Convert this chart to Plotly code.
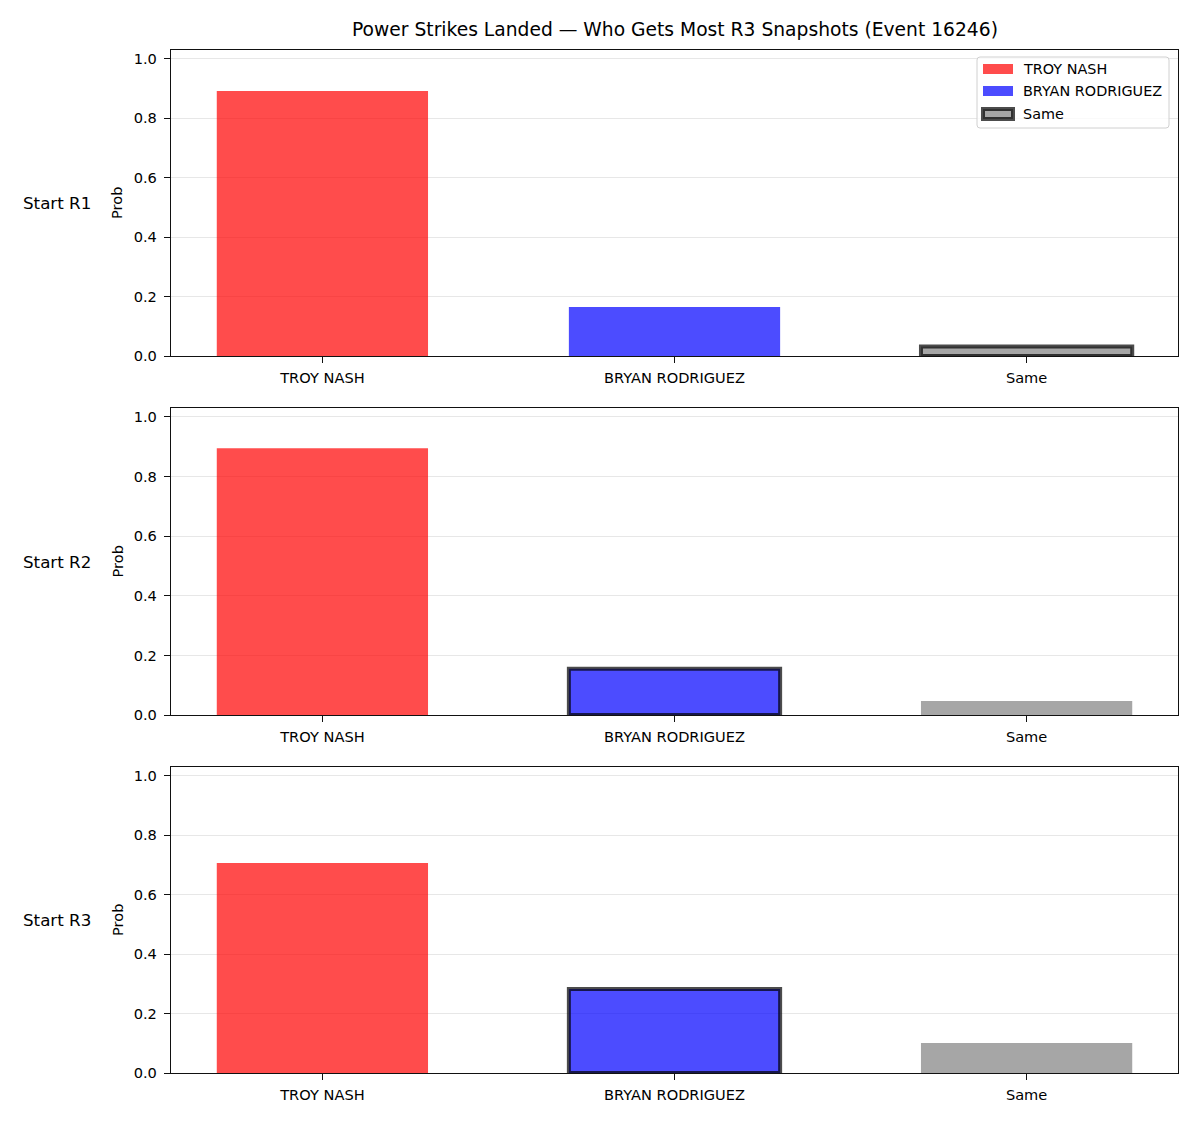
import plotly.graph_objects as go

categories = ["TROY NASH", "BRYAN RODRIGUEZ", "Same"]
row_labels = ["Start R1", "Start R2", "Start R3"]
probs_r1 = [0.892, 0.165, 0.032]
probs_r2 = [0.895, 0.155, 0.047]
probs_r3 = [0.707, 0.283, 0.101]
highlight = ["Same", "BRYAN RODRIGUEZ", "BRYAN RODRIGUEZ"]
title = "Power Strikes Landed \u2014 Who Gets Most R3 Snapshots (Event 16246)"

colors = ["rgba(255,0,0,0.7)", "rgba(0,0,255,0.7)", "rgba(128,128,128,0.7)"]
EDGE = "rgba(0,0,0,0.7)"
W, H = 1200, 1125
FONT = "DejaVu Sans"
TICK = 14.6

# panel pixel boxes (top, bottom)
panels_px = [(50, 356), (408, 715), (767, 1073)]
x0, x1 = 171, 1178


def px(x):
    return x / W


def py(y):
    return 1 - y / H


fig = go.Figure()
all_vals = [probs_r1, probs_r2, probs_r3]

for i, vals in enumerate(all_vals):
    n = i + 1
    xa = "x" if n == 1 else f"x{n}"
    ya = "y" if n == 1 else f"y{n}"
    lw = [4 if c == highlight[i] else 0 for c in categories]
    fig.add_trace(go.Bar(
        x=categories, y=vals, width=0.6,
        marker=dict(color=colors, line=dict(color=EDGE, width=lw)),
        xaxis=xa, yaxis=ya, showlegend=False, hoverinfo="x+y",
    ))
    top, bot = panels_px[i]
    dom_y = [py(bot), py(top)]
    axkey_x = "xaxis" if n == 1 else f"xaxis{n}"
    axkey_y = "yaxis" if n == 1 else f"yaxis{n}"
    fig.update_layout({
        axkey_x: dict(domain=[px(x0), px(x1)], anchor=ya, range=[-0.43, 2.43],
                      showline=True, linecolor="#111111", linewidth=1.4, mirror=True,
                      ticks="outside", ticklen=6, tickcolor="#111111", tickwidth=1.2,
                      showgrid=False, ticklabelstandoff=2,
                      tickfont=dict(family=FONT, size=TICK, color="black"),
                      categoryorder="array", categoryarray=categories, automargin=False),
        axkey_y: dict(domain=dom_y, anchor=xa, range=[0, 1.03],
                      showline=True, linecolor="#111111", linewidth=1.4, mirror=True,
                      ticks="outside", ticklen=6, tickcolor="#111111", tickwidth=1.2,
                      tickvals=[0, 0.2, 0.4, 0.6, 0.8, 1.0], tickformat=".1f",
                      showgrid=True, gridcolor="rgba(176,176,176,0.3)", gridwidth=1,
                      zeroline=False, ticklabelstandoff=4,
                      tickfont=dict(family=FONT, size=TICK, color="black"), automargin=False),
    })
    yc = py((top + bot) / 2)
    fig.add_annotation(text=row_labels[i], xref="paper", yref="paper",
                       x=px(57), y=yc, xanchor="center", yanchor="middle",
                       showarrow=False, font=dict(family=FONT, size=16.7, color="black"))
    fig.add_annotation(text="Prob", xref="paper", yref="paper",
                       x=px(117), y=yc, xanchor="center", yanchor="middle", textangle=-90,
                       showarrow=False, font=dict(family=FONT, size=TICK, color="black"))

# manual legend (matplotlib-style wide patches)
lx0, lx1, ly0, ly1, r = 977, 1169, 57, 128, 3
path = (f"M {px(lx0 + r)},{py(ly0)} L {px(lx1 - r)},{py(ly0)} "
        f"Q {px(lx1)},{py(ly0)} {px(lx1)},{py(ly0 + r)} L {px(lx1)},{py(ly1 - r)} "
        f"Q {px(lx1)},{py(ly1)} {px(lx1 - r)},{py(ly1)} L {px(lx0 + r)},{py(ly1)} "
        f"Q {px(lx0)},{py(ly1)} {px(lx0)},{py(ly1 - r)} L {px(lx0)},{py(ly0 + r)} "
        f"Q {px(lx0)},{py(ly0)} {px(lx0 + r)},{py(ly0)} Z")
fig.add_shape(type="path", path=path, xref="paper", yref="paper",
              fillcolor="rgba(255,255,255,0.8)", line=dict(color="#d0d0d0", width=1))
row_y = [69, 91, 114]
for name, col, yy in zip(categories, colors, row_y):
    is_same = name == "Same"
    fig.add_shape(type="rect", xref="paper", yref="paper",
                  x0=px(983), x1=px(1013), y0=py(yy - 5), y1=py(yy + 5),
                  fillcolor=col,
                  line=dict(color=EDGE if is_same else "rgba(0,0,0,0)", width=4 if is_same else 0))
    fig.add_annotation(text=name, xref="paper", yref="paper", x=px(1021), y=py(yy),
                       xanchor="left", yanchor="middle", showarrow=False,
                       font=dict(family=FONT, size=14.4, color="black"))

fig.add_annotation(text=title, xref="paper", yref="paper", x=px((x0 + x1) / 2), y=py(30),
                   xanchor="center", yanchor="middle", showarrow=False,
                   font=dict(family=FONT, size=18.7, color="black"))

fig.update_layout(
    width=W, height=H,
    margin=dict(l=0, r=0, t=0, b=0),
    paper_bgcolor="white", plot_bgcolor="white",
    barmode="overlay", showlegend=False,
    font=dict(family=FONT, size=TICK, color="black"),
)

fig.write_html("out.html")
